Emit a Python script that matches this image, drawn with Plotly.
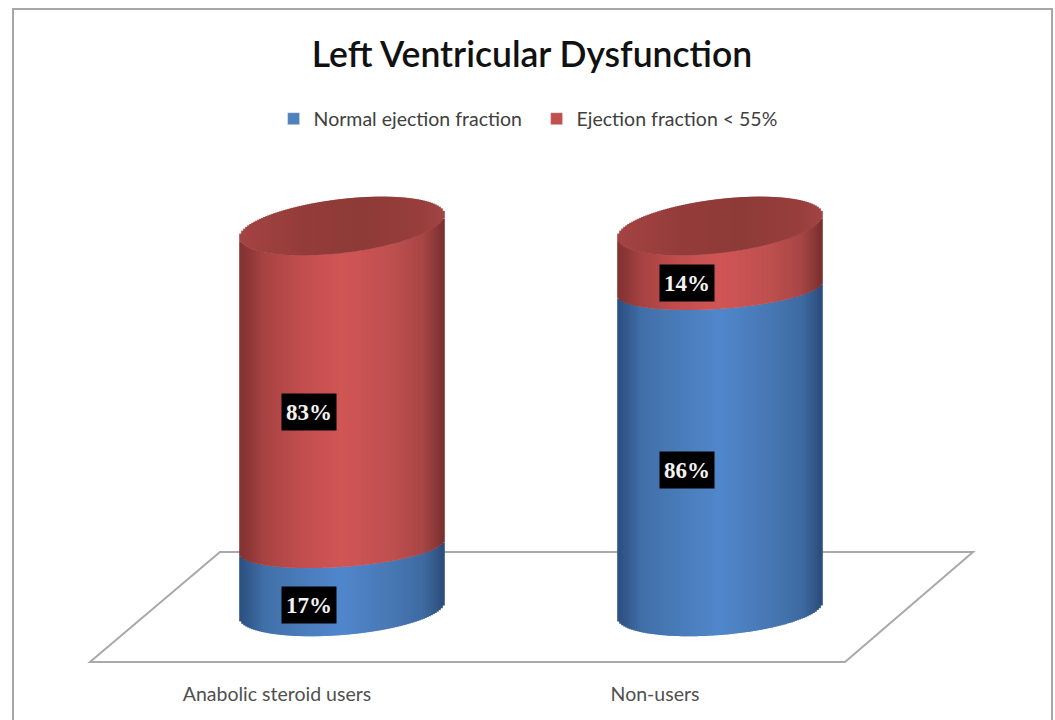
import numpy as np
import plotly.graph_objects as go

# ---- data ----
categories = ["Anabolic steroid users", "Non-users"]
normal_ef = [17, 86]
reduced_ef = [83, 14]
series_names = ["Normal ejection fraction", "Ejection fraction < 55%"]
title_text = "Left Ventricular Dysfunction"

# ---- axis calibration (pixels of a 1055x720 page) ----
W, H = 1055, 720
PLOT_BOTTOM = 680
PX_X0, PX_PER_CAT = 342.0, 378.0      # centre of first cylinder, spacing
PX_Y0, PX_PER_UNIT = 610.0, 3.74      # value 0, pixels per percent
def dx(px): return (px - PX_X0) / PX_PER_CAT
def dy(px): return (PX_Y0 - px) / PX_PER_UNIT
def px_ux(d): return d / PX_PER_CAT
def px_uy(d): return d / PX_PER_UNIT

RADIUS = 102.0
BASE_ARC = (25.0, 8.0)    # depth, tilt in px
MID_ARC = (20.5, 7.0)
TOP_ARC = (27.0, 11.5)
CAP_LIFT = px_uy(10)

BLUE_STOPS = [(0, "#2c4f80"), (.05, "#355b8f"), (.12, "#4170a8"), (.30, "#4a7cbb"), (.50, "#5187cc"),
              (.75, "#4878b4"), (.90, "#3f6ba3"), (.97, "#335888"), (1, "#2b4c7c")]
RED_STOPS = [(0, "#853232"), (.05, "#8f3838"), (.12, "#a84343"), (.30, "#c24e4e"), (.50, "#d15656"),
             (.75, "#bf5050"), (.90, "#a94646"), (.97, "#8a3838"), (1, "#7a2f2f")]
CAP_STOPS = [(0, "#a54444"), (.30, "#953d3b"), (.60, "#8e3b38"), (.90, "#993f3e"), (1, "#a24545")]

def hex2rgb(h):
    return np.array([int(h[i:i + 2], 16) for i in (1, 3, 5)], float)

def shade(stops, t):
    for (a, ca), (b, cb) in zip(stops, stops[1:]):
        if t <= b:
            c = hex2rgb(ca) + (hex2rgb(cb) - hex2rgb(ca)) * (t - a) / (b - a)
            return "rgb(%d,%d,%d)" % tuple(c)
    return stops[-1][1]

def arc(u, params, side=-1):
    depth, tilt = params
    return px_uy(tilt) * u + side * px_uy(depth) * np.sqrt(np.clip(1 - u ** 2, 0, 1))

STRIP_PX = 2.0
us = np.arange(-RADIUS + STRIP_PX / 2, RADIUS, STRIP_PX) / RADIUS

def strips(lows, highs, low_arc, high_arc, stops, low_lift=0.0, high_lift=0.0, high_side=-1):
    xs, bases, heights, colors = [], [], [], []
    for i in range(len(categories)):
        for u in us:
            b = lows[i] + low_lift + arc(u, low_arc)
            t = highs[i] + high_lift + arc(u, high_arc, high_side)
            xs.append(i + px_ux(u * RADIUS))
            bases.append(b)
            heights.append(t - b)
            colors.append(shade(stops, (u + 1) / 2))
    return go.Bar(x=xs, y=heights, base=bases, width=px_ux(STRIP_PX * 1.8),
                  marker=dict(color=colors, line_width=0), showlegend=False,
                  hoverinfo="skip")

totals = [a + b for a, b in zip(normal_ef, reduced_ef)]
n = len(categories)

fig = go.Figure()
fig.add_trace(go.Bar(x=[None], y=[None], name=series_names[0], marker_color="#4f81bd"))
fig.add_trace(go.Bar(x=[None], y=[None], name=series_names[1], marker_color="#c0504d"))
fig.add_trace(strips([0] * n, normal_ef, BASE_ARC, MID_ARC, BLUE_STOPS))
fig.add_trace(strips(normal_ef, totals, MID_ARC, TOP_ARC, RED_STOPS, high_lift=CAP_LIFT))
fig.add_trace(strips(totals, totals, TOP_ARC, TOP_ARC, CAP_STOPS,
                     low_lift=CAP_LIFT, high_lift=CAP_LIFT, high_side=1))

# value labels
annotations = []
for i in range(n):
    for v, low in ((normal_ef[i], 0), (reduced_ef[i], normal_ef[i])):
        annotations.append(dict(
            x=i, y=low + v / 2, xref="x", yref="y", text=f"<b>{v}%</b>", showarrow=False,
            xshift=-33, yshift=-27 if v == 17 else -21, width=52, height=34,
            align="center", valign="middle", bgcolor="#000000",
            font=dict(family="Liberation Serif", size=23, color="#f2f2f2")))

# floor and frame
def path(points):
    return "M" + " L".join(f"{dx(x):.4f},{dy(y):.4f}" for x, y in points)

floor_px = [(220, 552), (973, 552), (845, 662), (90, 662), (220, 552)]
shapes = [dict(type="path", xref="x", yref="y", layer="below", path=path(floor_px) + " Z",
               line=dict(color="#a9a9a9", width=2)),
          dict(type="path", xref="paper", yref="paper", layer="below",
               path=f"M{13/W:.4f},{-0.1} L{13/W:.4f},{1-9/PLOT_BOTTOM:.4f} "
                    f"L{1052/W:.4f},{1-9/PLOT_BOTTOM:.4f} L{1052/W:.4f},-0.1",
               line=dict(color="#a6a6a6", width=2))]

fig.update_layout(
    width=W, height=H, margin=dict(l=0, r=0, t=0, b=H - PLOT_BOTTOM),
    paper_bgcolor="#ffffff", plot_bgcolor="#ffffff", barmode="overlay",
    title=dict(text=title_text, x=532 / W, xanchor="center", y=1 - 55 / H, yanchor="middle",
               yref="container", font=dict(family="Lato", size=35.5, color="#111111", weight=600)),
    legend=dict(orientation="h", x=273.6 / W, y=1 - 119 / PLOT_BOTTOM, xanchor="left", yanchor="middle",
                entrywidth=218, entrywidthmode="pixels",
                font=dict(family="Lato", size=19.5, color="#404040"), bgcolor="rgba(0,0,0,0)"),
    xaxis=dict(range=[dx(0), dx(W)], showgrid=False, zeroline=False, showline=False, ticks="",
               tickmode="array", tickvals=[i + px_ux(-65) for i in range(n)], ticktext=categories,
               tickfont=dict(family="Lato", size=19.5, color="#505050")),
    yaxis=dict(range=[dy(PLOT_BOTTOM), dy(0)], visible=False),
    shapes=shapes, annotations=annotations, font=dict(family="Lato"),
)
fig.write_html("out.html", config={"displayModeBar": False},
               post_script="document.body.style.margin='0';")
